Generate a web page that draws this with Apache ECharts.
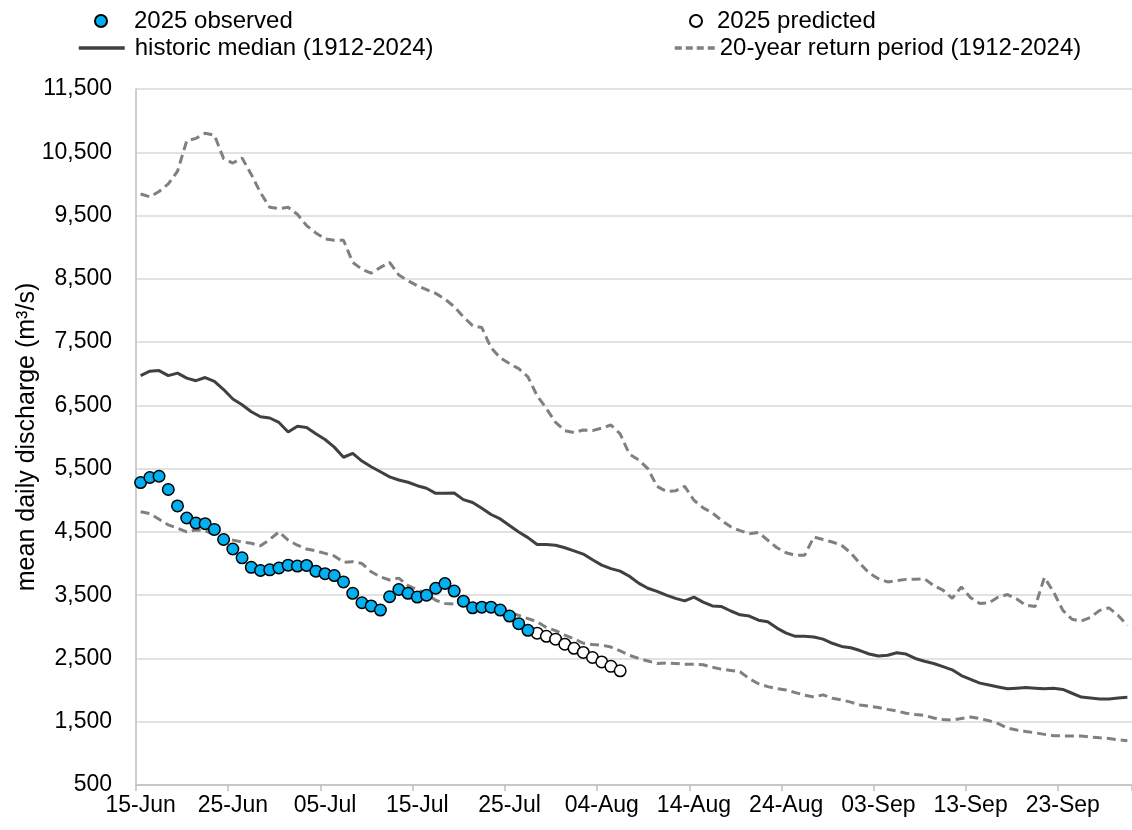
<!DOCTYPE html>
<html>
<head>
<meta charset="utf-8">
<title>mean daily discharge</title>
<script src="https://cdn.jsdelivr.net/npm/echarts@6/dist/echarts.min.js"></script>
<style>
  html, body { margin: 0; padding: 0; background: #fff; }
  #chart { width: 1132px; height: 830px; }
</style>
</head>
<body>
<div id="chart"></div>
<script>
// days from 15-Jun to 30-Sep
const monthNames = ['Jan', 'Feb', 'Mar', 'Apr', 'May', 'Jun', 'Jul', 'Aug', 'Sep', 'Oct', 'Nov', 'Dec']
const dayCount = 108
const dates = []
for (let i = 0; i < dayCount; i++) {
  const d = new Date(2025, 5, 15 + i)
  dates.push(String(d.getDate()).padStart(2, '0') + '-' + monthNames[d.getMonth()])
}

const observed = [
  5280, 5360, 5380, 5170, 4910, 4720, 4640, 4630, 4540, 4380,
  4230, 4090, 3940, 3890, 3900, 3930, 3975, 3960, 3970, 3880,
  3840, 3810, 3710, 3530, 3380, 3330, 3265, 3475, 3590, 3530,
  3470, 3500, 3610, 3685, 3565, 3405, 3300, 3310, 3310, 3265,
  3170, 3050, 2945
]

const predicted = [2900, 2850, 2805, 2725, 2660, 2595, 2515, 2445, 2375, 2305]

const median = [
  6970, 7040, 7050, 6970, 7010, 6930, 6890, 6940, 6880, 6750,
  6600, 6510, 6400, 6320, 6300, 6230, 6080, 6170, 6150, 6050,
  5960, 5840, 5680, 5740, 5620, 5530, 5450, 5370, 5320, 5285,
  5230, 5190, 5110, 5110, 5115, 5010, 4965, 4875, 4775, 4705,
  4600, 4500, 4410, 4300, 4300, 4290, 4250, 4200, 4150, 4060,
  3975, 3920, 3880, 3800, 3690, 3610, 3560, 3500, 3450, 3410,
  3470, 3390, 3330, 3320, 3250, 3190, 3170, 3105, 3080, 2980,
  2900, 2850, 2850, 2840, 2805, 2740, 2690, 2670, 2625, 2570,
  2540, 2550, 2590, 2570, 2500, 2455, 2420, 2370, 2320, 2230,
  2170, 2110, 2080, 2050, 2020, 2030, 2040, 2030, 2020, 2030,
  2010, 1950, 1890, 1875, 1860, 1860, 1875, 1885
]

const returnHigh = [
  9840, 9795, 9880, 10000, 10200, 10680, 10720, 10800, 10770, 10400,
  10330, 10410, 10150, 9860, 9630, 9610, 9630, 9520, 9340, 9225,
  9130, 9110, 9110, 8760, 8650, 8590, 8680, 8760, 8560, 8470,
  8390, 8330, 8270, 8180, 8060, 7900, 7760, 7730, 7410, 7250,
  7160, 7080, 6950, 6650, 6450, 6230, 6100, 6070, 6110, 6100,
  6140, 6190, 6050, 5730, 5640, 5500, 5220, 5140, 5150, 5220,
  5000, 4880, 4800, 4680, 4580, 4520, 4470, 4490, 4370, 4250,
  4170, 4130, 4130, 4420, 4380, 4340, 4290, 4170, 4000, 3850,
  3760, 3710, 3730, 3750, 3750, 3760, 3650, 3580, 3450, 3630,
  3460, 3370, 3380, 3470, 3510, 3440, 3340, 3320, 3780, 3550,
  3260, 3120, 3090, 3150, 3260, 3300, 3180, 3020
]

const returnLow = [
  4820, 4790, 4700, 4610, 4560, 4500, 4530, 4520, 4450, 4400,
  4370, 4340, 4320, 4280, 4380, 4500, 4370, 4290, 4230, 4200,
  4160, 4120, 4020, 4030, 4000, 3870, 3790, 3740, 3770, 3650,
  3590, 3520, 3420, 3370, 3360, 3400, 3350, 3320, 3290, 3270,
  3230, 3180, 3130, 3080, 2990, 2940, 2870, 2810, 2740, 2720,
  2710, 2680, 2620, 2550, 2500, 2460, 2420, 2430, 2420, 2410,
  2410, 2400, 2360, 2330, 2310, 2290, 2180, 2100, 2055, 2025,
  2000, 1960, 1920, 1890, 1925, 1870, 1845, 1810, 1765, 1745,
  1725, 1695, 1670, 1635, 1615, 1600, 1560, 1535, 1525, 1550,
  1575, 1550, 1515, 1470, 1400, 1370, 1345, 1325, 1300, 1280,
  1275, 1275, 1275, 1260, 1245, 1235, 1215, 1200
]

const yTicks = { min: 500, max: 11500, step: 1000 }

const FONT = "'Liberation Sans', Arial, sans-serif"
const dashGrey = '#808080'
const medianGrey = '#404040'

const chart = echarts.init(document.getElementById('chart'))

const legendText = (padLeft) => ({
  fontFamily: FONT, fontSize: 24, color: '#000', padding: [0, 0, 0, padLeft]
})

chart.setOption({
  animation: false,
  backgroundColor: '#fff',
  grid: { left: 136, right: -7, top: 89, bottom: 45 },
  legend: [
    // marker legends: icon box is just the circle, gap comes from text padding
    { left: 94, top: 9, padding: 0, itemWidth: 12, itemHeight: 12, selectedMode: false,
      textStyle: legendText(22), data: ['2025 observed'] },
    { left: 689, top: 9, padding: 0, itemWidth: 12, itemHeight: 12, selectedMode: false,
      textStyle: legendText(10), data: ['2025 predicted'] },
    // line legends: hide the symbol, keep the line
    { left: 77, top: 36, padding: 0, itemWidth: 46, itemHeight: 12, selectedMode: false,
      itemStyle: { opacity: 0 }, lineStyle: { width: 3.5 },
      textStyle: legendText(5), data: ['historic median (1912-2024)'] },
    { left: 673, top: 36, padding: 0, itemWidth: 40, itemHeight: 12, selectedMode: false,
      itemStyle: { opacity: 0 }, lineStyle: { width: 3.5, type: [7, 4] },
      textStyle: legendText(0), data: ['20-year return period (1912-2024)'] }
  ],
  xAxis: {
    type: 'category',
    data: dates,
    boundaryGap: true,
    axisLine: { lineStyle: { color: '#bfbfbf', width: 1.5 } },
    axisTick: { show: true, interval: 9, length: 6, lineStyle: { color: '#bfbfbf', width: 1.5 } },
    axisLabel: { interval: 9, margin: 9, fontFamily: FONT, fontSize: 23, color: '#000' },
    splitLine: { show: false }
  },
  yAxis: {
    type: 'value',
    min: yTicks.min,
    max: yTicks.max,
    interval: yTicks.step,
    name: 'mean daily discharge (m³/s)',
    nameLocation: 'middle',
    nameRotate: 90,
    nameGap: 96,
    nameMoveOverlap: false,
    nameTextStyle: { fontFamily: FONT, fontSize: 25, color: '#000' },
    axisLine: { show: true, lineStyle: { color: '#bfbfbf', width: 1.5 } },
    axisTick: { show: false },
    axisLabel: {
      margin: 24,
      fontFamily: FONT,
      fontSize: 23,
      color: '#000',
      formatter: v => v.toLocaleString('en-US')
    },
    splitLine: { lineStyle: { color: '#d9d9d9', width: 1.5 } }
  },
  series: [
    {
      name: 'historic median (1912-2024)',
      type: 'line',
      data: median,
      symbol: 'none',
      z: 2,
      lineStyle: { color: medianGrey, width: 3 },
      itemStyle: { color: medianGrey }
    },
    {
      name: '20-year return period (1912-2024)',
      type: 'line',
      data: returnHigh,
      symbol: 'none',
      z: 2,
      lineStyle: { color: dashGrey, width: 3, type: [9, 5] },
      itemStyle: { color: dashGrey }
    },
    {
      name: '20-year return period (1912-2024)',
      type: 'line',
      data: returnLow,
      symbol: 'none',
      z: 2,
      lineStyle: { color: dashGrey, width: 3, type: [9, 5] },
      itemStyle: { color: dashGrey }
    },
    {
      name: '2025 predicted',
      type: 'scatter',
      data: predicted.map((v, i) => [observed.length + i, v]),
      symbol: 'circle',
      symbolSize: 11.5,
      z: 3,
      itemStyle: { color: '#fff', borderColor: '#000', borderWidth: 1.5, opacity: 1 }
    },
    {
      name: '2025 observed',
      type: 'scatter',
      data: observed,
      symbol: 'circle',
      symbolSize: 11.5,
      z: 4,
      itemStyle: { color: '#00b0f0', borderColor: '#000', borderWidth: 1.5, opacity: 1 }
    }
  ]
})
</script>
</body>
</html>
